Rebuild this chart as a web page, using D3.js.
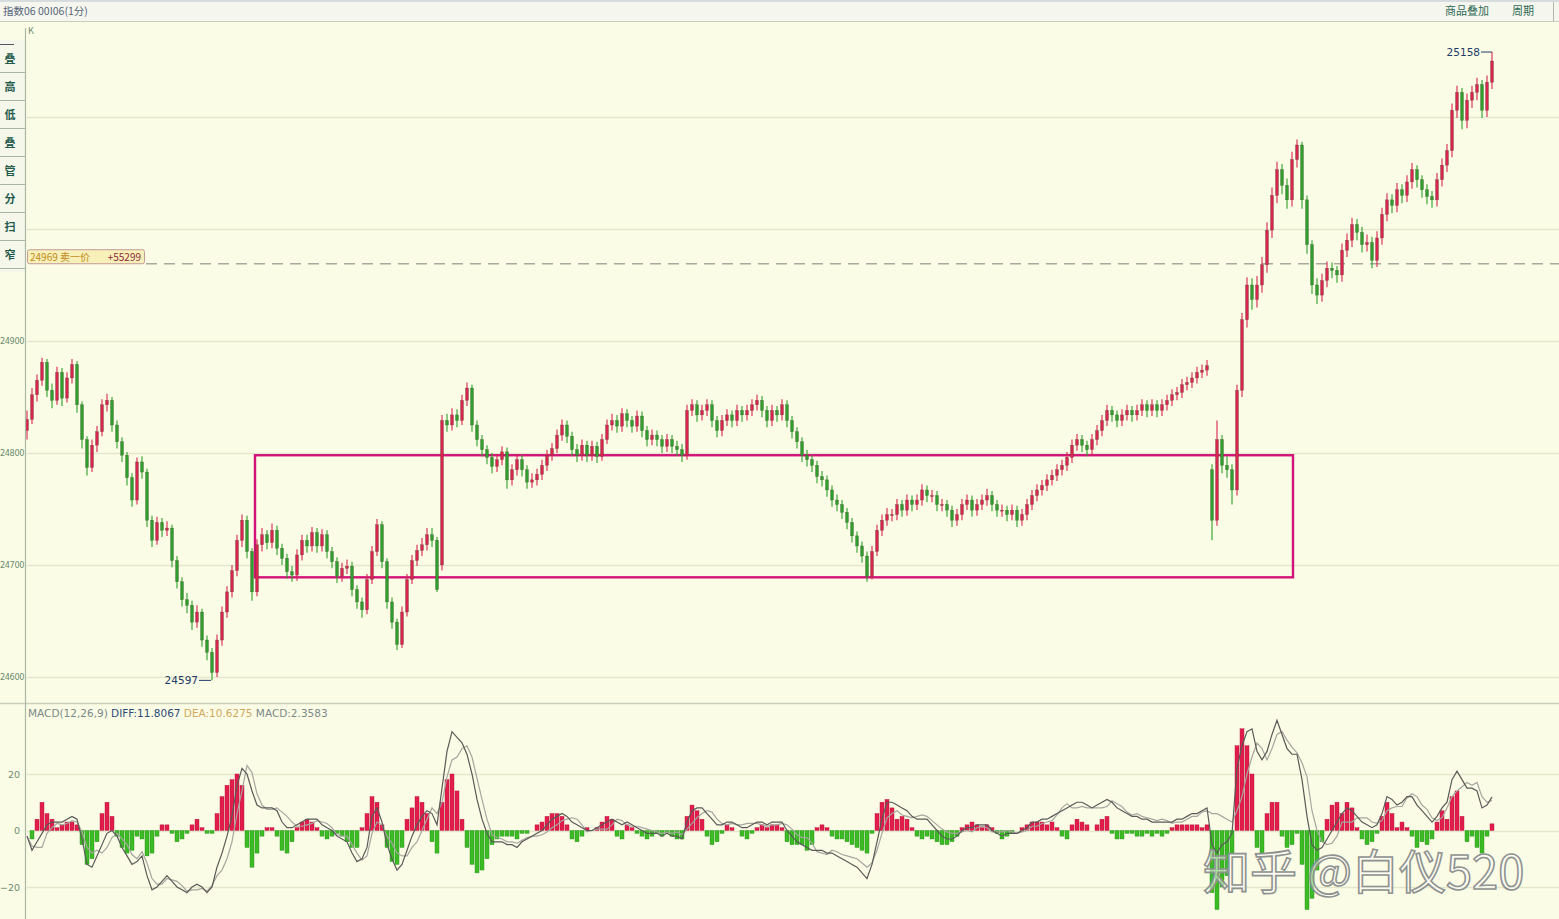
<!DOCTYPE html>
<html><head><meta charset="utf-8">
<script src="https://cdn.jsdelivr.net/npm/d3@7"></script>
<style>
body{margin:0;background:#fbfce6;}
svg{display:block;font-family:"Noto Sans CJK SC","DejaVu Sans",sans-serif;}
</style>
</head><body>
<svg id="c" width="1559" height="919"></svg>
<script>
const opens=[24820,24830,24852,24865,24881,24856,24847,24872,24849,24867,
24879,24843,24812,24787,24807,24819,24843,24847,24825,24810,
24798,24778,24758,24792,24783,24740,24722,24738,24731,24733,
24704,24685,24669,24664,24649,24658,24633,24622,24604,24633,
24658,24676,24695,24722,24740,24712,24676,24718,24727,24720,
24731,24715,24706,24694,24691,24709,24722,24717,24729,24717,
24727,24712,24703,24690,24697,24699,24678,24667,24660,24687,
24712,24736,24703,24667,24649,24629,24658,24687,24704,24713,
24718,24727,24722,24700,24829,24825,24834,24829,24847,24858,
24825,24812,24803,24796,24788,24794,24801,24776,24785,24794,
24785,24774,24776,24781,24789,24798,24804,24816,24825,24815,
24803,24798,24807,24798,24806,24797,24812,24825,24829,24824,
24835,24829,24824,24833,24820,24812,24816,24812,24806,24812,
24806,24803,24798,24838,24843,24834,24838,24843,24829,24820,
24829,24834,24829,24838,24834,24838,24843,24847,24838,24829,
24838,24834,24843,24829,24819,24810,24798,24794,24789,24779,
24776,24767,24758,24754,24747,24738,24726,24717,24708,24690,
24712,24731,24740,24745,24745,24754,24749,24758,24754,24758,
24767,24762,24762,24754,24754,24749,24740,24745,24754,24758,
24749,24754,24758,24762,24754,24749,24749,24745,24749,24740,
24745,24754,24762,24767,24771,24776,24780,24785,24789,24796,
24807,24812,24807,24803,24812,24820,24829,24838,24834,24829,
24834,24838,24834,24838,24843,24838,24843,24838,24843,24847,
24852,24854,24861,24863,24867,24872,24874,24785,24740,24812,
24789,24785,24767,24856,24919,24950,24937,24950,24968,24999,
25030,25053,25039,25026,25062,25075,25026,24986,24950,24941,
24954,24965,24963,24959,24981,24990,25004,24997,24986,24988,
24972,24992,25013,25026,25021,25035,25030,25042,25053,25044,
25035,25029,25026,25044,25057,25070,25106,25122,25097,25115,
25122,25129,25106,25131];
const highs=[24838,24858,24870,24885,24884,24862,24877,24876,24872,24884,
24882,24846,24815,24812,24824,24848,24853,24850,24829,24814,
24801,24782,24796,24797,24786,24744,24743,24742,24739,24736,
24708,24689,24675,24668,24664,24661,24637,24626,24638,24663,
24681,24700,24727,24745,24744,24715,24723,24733,24731,24737,
24735,24719,24710,24699,24714,24727,24727,24734,24733,24732,
24731,24716,24707,24702,24705,24703,24682,24671,24692,24717,
24741,24739,24706,24671,24652,24663,24692,24709,24718,24724,
24733,24733,24725,24834,24835,24840,24839,24852,24863,24861,
24829,24816,24807,24800,24799,24806,24805,24790,24799,24798,
24789,24782,24786,24794,24803,24809,24821,24830,24829,24819,
24808,24812,24811,24811,24810,24817,24830,24835,24834,24840,
24839,24833,24838,24837,24824,24821,24820,24816,24817,24816,
24811,24808,24843,24848,24847,24843,24848,24847,24833,24834,
24839,24838,24843,24842,24843,24848,24852,24851,24842,24843,
24842,24848,24847,24833,24823,24814,24803,24798,24793,24784,
24780,24771,24763,24758,24751,24742,24730,24721,24712,24717,
24736,24745,24751,24750,24759,24758,24763,24762,24763,24772,
24771,24767,24766,24759,24758,24753,24750,24759,24763,24762,
24759,24763,24768,24766,24758,24754,24753,24754,24753,24750,
24759,24767,24772,24776,24781,24785,24790,24794,24801,24812,
24817,24816,24811,24817,24825,24834,24843,24842,24838,24839,
24843,24842,24843,24848,24847,24848,24847,24848,24852,24857,
24859,24866,24868,24872,24877,24879,24883,24790,24829,24816,
24797,24790,24861,24925,24957,24956,24958,24975,25006,25037,
25060,25058,25045,25069,25080,25078,25030,24990,24956,24960,
24971,24970,24967,24987,24996,25010,25009,25002,24995,24993,
24998,25019,25032,25031,25041,25040,25048,25059,25057,25048,
25040,25034,25050,25063,25076,25112,25128,25126,25121,25128,
25135,25133,25137,25158];
const lows=[24812,24826,24846,24860,24850,24840,24843,24842,24845,24862,
24836,24804,24780,24783,24801,24815,24837,24819,24804,24792,
24771,24752,24754,24777,24734,24716,24718,24725,24726,24698,
24679,24663,24657,24642,24644,24627,24615,24597,24600,24628,
24653,24671,24690,24716,24706,24668,24672,24712,24714,24715,
24709,24700,24688,24685,24686,24704,24711,24712,24711,24712,
24706,24697,24684,24685,24692,24672,24661,24653,24656,24683,
24708,24697,24661,24643,24624,24626,24654,24683,24699,24708,
24713,24716,24676,24695,24819,24820,24823,24825,24842,24819,
24806,24797,24790,24782,24783,24789,24768,24771,24780,24779,
24768,24769,24771,24776,24784,24793,24800,24811,24809,24797,
24792,24793,24792,24793,24791,24793,24808,24820,24818,24819,
24823,24818,24819,24814,24806,24807,24806,24800,24801,24800,
24797,24792,24794,24833,24828,24829,24833,24823,24814,24815,
24824,24823,24824,24828,24829,24833,24838,24832,24823,24824,
24828,24829,24823,24813,24804,24792,24788,24783,24773,24770,
24761,24752,24748,24741,24732,24720,24711,24702,24685,24687,
24708,24726,24735,24739,24740,24743,24744,24748,24749,24753,
24756,24756,24748,24748,24743,24734,24735,24740,24749,24743,
24744,24749,24753,24748,24743,24743,24739,24740,24734,24735,
24740,24749,24757,24762,24766,24771,24775,24780,24784,24791,
24802,24801,24797,24798,24807,24815,24824,24828,24823,24824,
24829,24828,24829,24833,24832,24833,24832,24833,24838,24842,
24847,24849,24856,24858,24862,24867,24869,24722,24735,24782,
24778,24754,24762,24850,24912,24928,24930,24943,24961,24992,
25023,25031,25018,25020,25055,25018,24978,24942,24933,24935,
24948,24956,24952,24953,24975,24984,24990,24979,24980,24965,
24966,24986,25007,25014,25015,25023,25024,25036,25037,25028,
25022,25019,25020,25038,25051,25064,25099,25089,25090,25108,
25115,25099,25100,25125];
const closes=[24830,24852,24865,24881,24856,24847,24872,24849,24867,24879,
24843,24812,24787,24807,24819,24843,24847,24825,24810,24798,
24778,24758,24792,24783,24740,24722,24738,24731,24733,24704,
24685,24669,24664,24649,24658,24633,24622,24604,24633,24658,
24676,24695,24722,24740,24712,24676,24718,24727,24720,24731,
24715,24706,24694,24691,24709,24722,24717,24729,24717,24727,
24712,24703,24690,24697,24699,24678,24667,24660,24687,24712,
24736,24703,24667,24649,24629,24658,24687,24704,24713,24718,
24727,24722,24678,24829,24825,24834,24829,24847,24858,24825,
24812,24803,24796,24788,24794,24801,24776,24785,24794,24785,
24774,24776,24781,24789,24798,24804,24816,24825,24815,24803,
24798,24807,24798,24806,24797,24812,24825,24829,24824,24835,
24829,24824,24833,24820,24812,24816,24812,24806,24812,24806,
24803,24798,24838,24843,24834,24838,24843,24829,24820,24829,
24834,24829,24838,24834,24838,24843,24847,24838,24829,24838,
24834,24843,24829,24819,24810,24798,24794,24789,24779,24776,
24767,24758,24754,24747,24738,24726,24717,24708,24690,24712,
24731,24740,24745,24745,24754,24749,24758,24754,24758,24767,
24762,24762,24754,24754,24749,24740,24745,24754,24758,24749,
24754,24758,24762,24754,24749,24749,24745,24749,24740,24745,
24754,24762,24767,24771,24776,24780,24785,24789,24796,24807,
24812,24807,24803,24812,24820,24829,24838,24834,24829,24834,
24838,24834,24838,24843,24838,24843,24838,24843,24847,24852,
24854,24861,24863,24867,24872,24874,24878,24740,24812,24789,
24785,24767,24856,24919,24950,24937,24950,24968,24999,25030,
25053,25039,25026,25062,25075,25026,24986,24950,24941,24954,
24965,24963,24959,24981,24990,25004,24997,24986,24988,24972,
24992,25013,25026,25021,25035,25030,25042,25053,25044,25035,
25029,25026,25044,25057,25070,25106,25122,25097,25115,25122,
25129,25106,25131,25150];

const diff=[-2,-7,-4,-1,2,3,3,3,4,5,
4,-3,-12,-13,-9,-5,-1,0,-2,-6,
-9,-12,-11,-9,-16,-21,-20,-18,-16,-18,
-20,-21,-22,-20,-19,-20,-22,-20,-13,-8,
-2,5,16,22,20,14,9,8,8,8,
7,3,1,1,2,3,4,4,4,2,
1,0,-2,-3,-4,-8,-11,-10,-6,5,
8,3,-5,-10,-14,-12,-7,-2,2,5,
7,6,2,15,28,35,33,31,27,20,
11,4,-1,-4,-4,-4,-5,-5,-6,-4,
-3,-2,-1,0,2,4,5,6,5,3,
2,1,0,0,1,2,3,4,3,2,
3,2,1,0,-1,-1,-1,-2,-1,-2,
-2,-3,3,7,8,8,6,4,2,2,
3,3,2,1,1,2,3,3,2,3,
3,3,0,-2,-4,-5,-6,-7,-7,-7,
-8,-8,-9,-10,-11,-12,-13,-15,-17,-12,
-4,4,10,10,9,8,7,5,4,4,
4,2,0,-2,-3,-3,-2,0,1,1,
2,2,2,0,-1,-2,-1,-1,-1,0,
1,3,3,4,4,5,6,7,8,9,
10,10,9,8,9,10,11,10,8,7,
6,5,5,4,4,3,3,3,3,3,
4,4,5,6,6,7,8,-5,-8,-5,
-4,-1,22,30,35,36,28,25,28,34,
39,34,29,27,27,18,5,-5,-7,-6,
-3,0,3,6,8,7,5,3,2,1,
2,6,12,11,9,10,12,12,9,7,
5,3,5,8,10,18,21,18,15,15,
14,8,9,11.8067];
const dea=[-2,-5.5,-6,-6,-1,1,2.5,2,2.5,3.5,
3,-0.5,-6,-8,-7,-8,-6,-2.5,-1,-3,
-5,-8.5,-10,-7.5,-11.5,-17,-19,-19,-17,-17.5,
-18,-19.5,-21.5,-21,-21,-20.5,-21.5,-19.5,-16,-14,
-10,-4,6,14,23,20.5,13,9,7.5,7.5,
8,6.5,5,3,1.5,1.5,2,2.5,3.5,3,
2.5,1,-1.5,-2,-2,-5,-8,-10.5,-9,-1,
3,2,-2,-4.5,-8,-9,-9,-6,-4,0,
4,8,6,10,19,25,26,29,30,26,
18.5,11,4,-1.5,-2.5,-3,-4,-4,-4.5,-3.5,
-2.5,-2,-2,-1.5,-0.5,1,2,3.5,4,4.5,
4,2,-0.5,0,0.5,0.5,0.5,2,4,3.5,
2,1.5,1.5,1,0.5,0,-0.5,-1,-0.5,-1,
-0.5,-1.5,0.5,2.5,4.5,6,7,6.5,4,2.5,
2,2.5,2,2,2.5,2.5,2.5,2,1.5,2,
2,2.5,2,0.5,-1.5,-2.5,-2.5,-4.5,-7.5,-8,
-8.5,-7,-7.5,-8.5,-9,-9.5,-10,-11.5,-13,-11.5,
-7,-1,4.5,6,7,5.5,5,4.5,5,5.5,
5,3.5,2,0.5,-0.5,-1,-1,-0.5,0,-0.5,
1,1.5,1,-0.5,-0.5,-0.5,0,-0.5,-1,-0.5,
0,1.5,1.5,2.5,3,3.5,5.5,8,9.5,8,
8,8.5,8,8,8,8,8.5,10.5,9.5,8.5,
6.5,5.5,6,5,4.5,4,3.5,4,3.5,2.5,
3,3,4,5,5,6.5,7,6,6,5,
4,3,7,12,20,26,31,29,25,29,
34,35,32,29.5,27.5,24,19,7,0,-4,
-5,-4.5,-2,3,3,3,4.5,4.5,4.5,3,
2.5,3.5,7,8,8.5,8.5,11.5,13,12,9,
7.5,4.5,3.5,4.5,8,12,14,15.5,17,16,
17,12,10,10.6275];
const macdBar=[0,-3,4,10,6,4,1,2,3,3,
2,-5,-12,-10,-4,6,10,5,-2,-6,
-8,-7,-2,-3,-9,-8,-2,2,2,-1,
-4,-3,-1,2,4,1,-1,-1,6,12,
16,18,20,16,-6,-13,-8,-2,1,1,
-2,-7,-8,-4,1,3,4,3,1,-2,
-3,-2,-1,-2,-4,-6,-6,1,6,12,
10,2,-6,-11,-12,-6,4,8,12,10,
6,-4,-8,10,18,20,14,4,-6,-12,
-15,-14,-10,-5,-3,-2,-2,-2,-3,-1,
-1,0,2,3,5,6,6,5,2,-3,
-4,-2,1,0,1,3,5,4,-2,-3,
2,1,-1,-2,-3,-2,-1,-2,-1,-2,
-3,-3,5,9,7,4,-2,-5,-4,-1,
2,1,0,-2,-3,-1,1,2,1,2,
2,1,-4,-5,-5,-5,-7,-5,1,2,
1,-2,-3,-3,-4,-5,-6,-7,-8,-1,
6,10,11,8,4,5,4,1,-2,-3,
-2,-3,-4,-5,-5,-4,-2,1,2,3,
2,1,2,1,-1,-3,-2,-1,0,1,
2,3,3,3,2,3,1,-2,-3,2,
4,3,2,0,2,4,5,-1,-3,-3,
-1,-1,-2,-2,-1,-2,-1,-2,-1,1,
2,2,2,2,2,1,2,-22,-28,-20,
-16,-8,30,36,30,20,-6,-8,6,10,
10,-2,-6,-5,-1,-12,-28,-24,-14,-4,
4,9,10,6,10,8,1,-3,-5,-4,
-1,5,10,6,1,3,1,-2,-6,-4,
-5,-3,3,7,4,12,14,5,-4,-2,
-6,-8,-2,2.3583];

const gridTicks=[24600,24700,24800,24900,25000,25100];
const priceLabels=[24600,24700,24800,24900];
const macdTicks=[-20,0,20];
const sideButtons=["叠","高","低","叠","管","分","扫","窄"];
const refPrice=24969, refVolume="+55299", refLabel="卖一价";
const boxRange={i0:45.6,i1:253.2,p0:24689,p1:24798};
const lowMark={i:37,value:24597}, highMark={i:293,value:25158};

const N=closes.length;
const svg=d3.select("#c");
const W=1559,H=919;
const x=d3.scaleLinear().domain([0,N-1]).range([27,1492]);
const yP=d3.scaleLinear().domain([24600,24900]).range([677,341]);
const yM=d3.scaleLinear().domain([-20,20]).range([887,774]);

svg.append("rect").attr("width",W).attr("height",H).attr("fill","#fbfce5");
// header
svg.append("rect").attr("x",0).attr("y",0).attr("width",W).attr("height",21).attr("fill","#f5f7ee");
svg.append("line").attr("x1",0).attr("x2",W).attr("y1",1).attr("y2",1).attr("stroke","#b7c1cf");
svg.append("line").attr("x1",0).attr("x2",W).attr("y1",21.5).attr("y2",21.5).attr("stroke","#c5cfbe");
svg.append("text").attr("x",3).attr("y",15).attr("font-size",10.5).attr("fill","#55627a").text("指数06 00I06(1分)");
svg.append("text").attr("x",1445).attr("y",15).attr("font-size",11).attr("fill","#2f6a55").text("商品叠加");
svg.append("text").attr("x",1512).attr("y",15).attr("font-size",11).attr("fill","#2f6a55").text("周期");
svg.append("line").attr("x1",1553.5).attr("x2",1553.5).attr("y1",2).attr("y2",21).attr("stroke","#b0b8a8");

// price grid
svg.append("g").selectAll("line").data(gridTicks).join("line")
  .attr("x1",27).attr("x2",W).attr("y1",d=>Math.round(yP(d))+0.5).attr("y2",d=>Math.round(yP(d))+0.5)
  .attr("stroke","#e4e7cc").attr("stroke-width",1.5);
const ax=svg.append("g").attr("transform","translate(25,0)")
  .call(d3.axisLeft(yP).tickValues(priceLabels).tickSize(0).tickPadding(1).tickFormat(d3.format("d")));
ax.select(".domain").remove();
ax.selectAll("text").attr("font-size",8.2).attr("letter-spacing",-0.4).attr("fill","#6d8a70").attr("font-family","DejaVu Sans");

// macd grid
svg.append("line").attr("x1",0).attr("x2",W).attr("y1",703.5).attr("y2",703.5).attr("stroke","#c9cfbd").attr("stroke-width",1.5);
svg.append("g").selectAll("line").data(macdTicks).join("line")
  .attr("x1",27).attr("x2",W).attr("y1",d=>Math.round(yM(d))+0.5).attr("y2",d=>Math.round(yM(d))+0.5)
  .attr("stroke","#e4e7cc").attr("stroke-width",1.5);
const axm=svg.append("g").attr("transform","translate(22,0)")
  .call(d3.axisLeft(yM).tickValues(macdTicks).tickSize(0).tickPadding(2));
axm.select(".domain").remove();
axm.selectAll("text").attr("font-size",9.5).attr("fill","#6d8a70").attr("font-family","DejaVu Sans");

// box
svg.append("rect").attr("x",x(boxRange.i0)).attr("y",yP(boxRange.p1))
  .attr("width",x(boxRange.i1)-x(boxRange.i0)).attr("height",yP(boxRange.p0)-yP(boxRange.p1))
  .attr("fill","none").attr("stroke","#d4137a").attr("stroke-width",2.4);

// dashed reference line
svg.append("line").attr("x1",146).attr("x2",W).attr("y1",yP(refPrice)).attr("y2",yP(refPrice))
  .attr("stroke","#a9a9a0").attr("stroke-width",1.6).attr("stroke-dasharray","11,7");
const lg=svg.append("g");
lg.append("rect").attr("x",27.5).attr("y",yP(refPrice)-14).attr("width",117).attr("height",14)
  .attr("fill","#f7f0b8").attr("stroke","#c49a9a").attr("rx",2);
lg.append("text").attr("x",30).attr("y",yP(refPrice)-3).attr("font-size",10).attr("fill","#c08a20")
  .text(refPrice+" "+refLabel);
lg.append("text").attr("x",141).attr("y",yP(refPrice)-3).attr("font-size",10).attr("text-anchor","end").attr("fill","#8a2a3a")
  .text(refVolume);

// candles
const up="#d8254f", dn="#2f9e2f";
const cg=svg.append("g");
cg.selectAll("line").data(d3.range(N)).join("line")
  .attr("x1",i=>x(i)).attr("x2",i=>x(i)).attr("y1",i=>yP(highs[i])).attr("y2",i=>yP(lows[i]))
  .attr("stroke",i=>closes[i]>=opens[i]?up:dn).attr("stroke-width",1.1);
cg.selectAll("rect").data(d3.range(N)).join("rect")
  .attr("x",i=>x(i)-1.5).attr("width",3)
  .attr("y",i=>yP(Math.max(opens[i],closes[i])))
  .attr("height",i=>Math.max(1,Math.abs(yP(opens[i])-yP(closes[i]))))
  .attr("fill",i=>closes[i]>=opens[i]?up:dn)
  .attr("stroke","#4a4a30").attr("stroke-width",0.3);

// marks
svg.append("text").attr("x",x(lowMark.i)-14).attr("y",yP(lowMark.value)+4).attr("text-anchor","end")
  .attr("font-size",10.5).attr("fill","#1e3a66").attr("font-family","DejaVu Sans").text(lowMark.value);
svg.append("line").attr("x1",x(lowMark.i)-13).attr("x2",x(lowMark.i)-1).attr("y1",yP(lowMark.value)).attr("y2",yP(lowMark.value)).attr("stroke","#1e3a66");
svg.append("text").attr("x",x(highMark.i)-12).attr("y",yP(highMark.value)+4).attr("text-anchor","end")
  .attr("font-size",10.5).attr("fill","#1e3a66").attr("font-family","DejaVu Sans").text(highMark.value);
svg.append("line").attr("x1",x(highMark.i)-11).attr("x2",x(highMark.i)).attr("y1",yP(highMark.value)).attr("y2",yP(highMark.value)).attr("stroke","#1e3a66");

// macd histogram
const mg=svg.append("g");
mg.selectAll("rect").data(d3.range(N)).join("rect")
  .attr("x",i=>x(i)-2).attr("width",4)
  .attr("y",i=>Math.min(yM(0),yM(macdBar[i])))
  .attr("height",i=>Math.abs(yM(macdBar[i])-yM(0)))
  .attr("fill",i=>macdBar[i]>=0?"#e21d4c":"#3cbb25")
  .attr("stroke",i=>macdBar[i]>=0?"#b0103a":"#1f8a1a").attr("stroke-width",0.4);
const line=arr=>d3.line().x((d,i)=>x(i)).y(d=>yM(d))(arr);
svg.append("path").attr("d",line(dea)).attr("fill","none").attr("stroke","#a6a6a0").attr("stroke-width",1.2);
svg.append("path").attr("d",line(diff)).attr("fill","none").attr("stroke","#5a5a58").attr("stroke-width",1.2);

// macd title
const mt=svg.append("text").attr("x",28).attr("y",717).attr("font-size",10.5).attr("font-family","DejaVu Sans");
mt.append("tspan").attr("fill","#7a8a88").text("MACD(12,26,9) ");
mt.append("tspan").attr("fill","#2a4a78").text("DIFF:"+diff[N-1].toFixed(4)+" ");
mt.append("tspan").attr("fill","#d0a860").text("DEA:"+dea[N-1].toFixed(4)+" ");
mt.append("tspan").attr("fill","#7a8a88").text("MACD:"+macdBar[N-1].toFixed(4));

// left axis and button column
svg.append("rect").attr("x",0).attr("y",40).attr("width",25).attr("height",232).attr("fill","#f4f7ea");
svg.append("line").attr("x1",25.5).attr("x2",25.5).attr("y1",28).attr("y2",H).attr("stroke","#aab7a5").attr("stroke-width",1.2);
svg.append("text").attr("x",28).attr("y",34).attr("font-size",9).attr("fill","#6d8a70").text("K");
const bg=svg.append("g");
sideButtons.forEach((t,k)=>{
  const y0=45+k*28;
  bg.append("line").attr("x1",0).attr("x2",25).attr("y1",y0+27.5).attr("y2",y0+27.5).attr("stroke","#a9b6a3");
  bg.append("text").attr("x",10).attr("y",y0+18).attr("text-anchor","middle").attr("font-size",11).attr("font-weight","bold").attr("fill","#245a4c").text(t);
});
bg.append("line").attr("x1",0).attr("x2",14).attr("y1",44.5).attr("y2",44.5).attr("stroke","#556");

// watermark
svg.append("text").attr("x",1203).attr("y",889).attr("font-size",47).attr("font-family","Noto Sans CJK SC")
  .attr("fill","rgba(255,255,255,0.55)").attr("stroke","#8e9290").attr("stroke-width",1.6).text("知乎 @白仪520");
</script>
</body></html>
